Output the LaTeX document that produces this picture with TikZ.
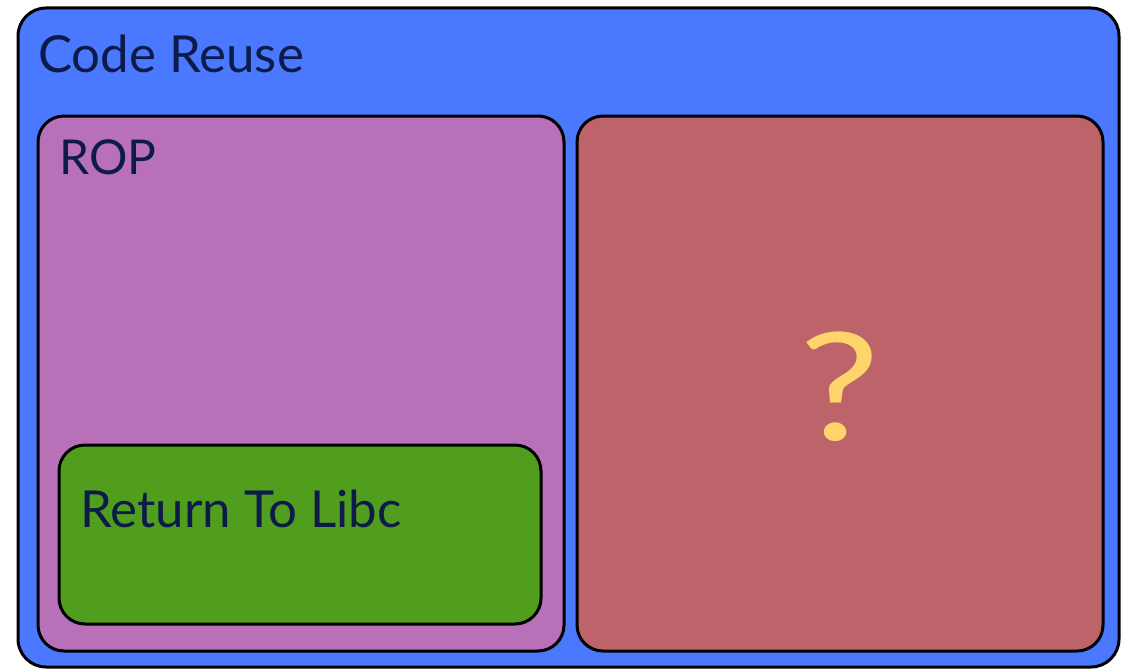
\documentclass[tikz,border=0pt]{standalone}
\usepackage{fontspec}
\setmainfont{Lato}
\definecolor{outerblue}{HTML}{4A78FF}
\definecolor{ropviolet}{HTML}{B870B8}
\definecolor{libcgreen}{HTML}{519E1E}
\definecolor{qred}{HTML}{BD646B}
\definecolor{qyellow}{HTML}{FFD56B}
\definecolor{navy}{HTML}{0D1B4A}
\begin{document}
\begin{tikzpicture}[x=1pt,y=-1pt,
  panel/.style={draw=black,line width=3pt,rounded corners=26pt,inner sep=0pt,anchor=north west},
  label/.style={text=navy,inner sep=0pt,anchor=base west,font=\fontsize{51}{60}\selectfont}]
\useasboundingbox (0,0) rectangle (1124,669);
\node[panel,fill=outerblue,rounded corners=28pt,minimum width=1101pt,minimum height=659pt] (outer) at (16.5,6.5) {};
\node[panel,fill=ropviolet,minimum width=526pt,minimum height=535pt] (rop) at (36.5,114.5) {};
\node[panel,fill=qred,minimum width=526pt,minimum height=535pt] (unknown) at (575.5,114.5) {};
\node[panel,fill=libcgreen,minimum width=482pt,minimum height=179pt] (libc) at (57.5,443.5) {};
\node[label] (outertitle) at (38,72) {Code Reuse};
\node[label,font=\fontsize{48}{56}\selectfont] (roptitle) at (59,174) {ROP};
\node[label] (libctitle) at (80,527) {Return To Libc};
\node[text=qyellow,inner sep=0pt,xscale=1.2,font=\fontsize{150}{160}\selectfont] (qmark) at (840,387) {?};
\end{tikzpicture}
\end{document}
